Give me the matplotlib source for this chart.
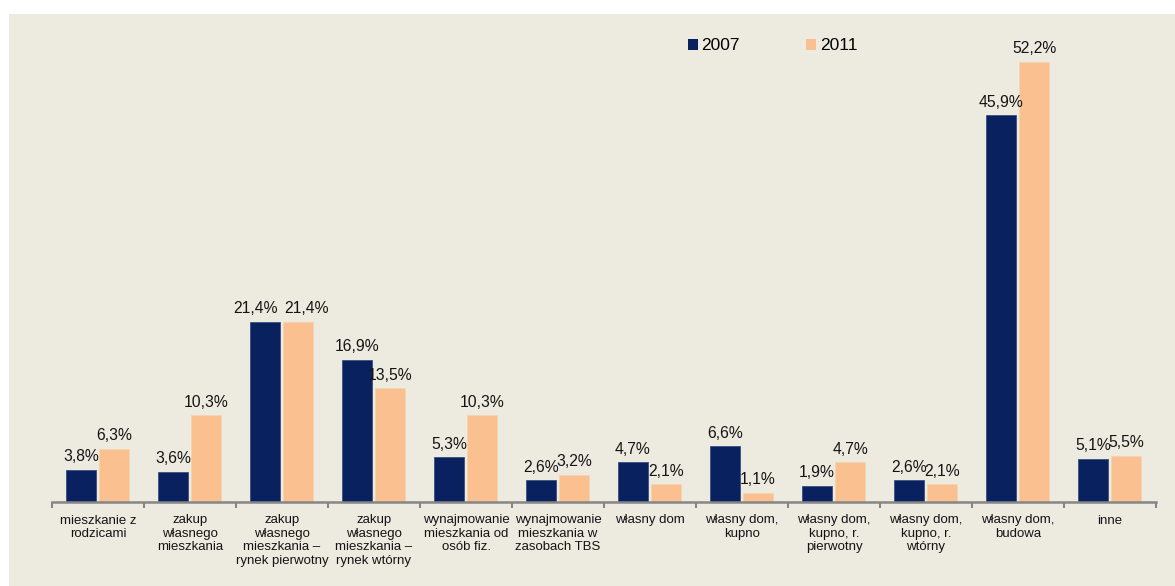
import numpy as np
import matplotlib
matplotlib.use("Agg")
import matplotlib.pyplot as plt
from matplotlib.patches import Patch, Rectangle

plt.rcParams['font.family'] = ['Liberation Sans', 'DejaVu Sans']

categories = [
    "mieszkanie z\nrodzicami",
    "zakup\nwłasnego\nmieszkania",
    "zakup\nwłasnego\nmieszkania –\nrynek pierwotny",
    "zakup\nwłasnego\nmieszkania –\nrynek wtórny",
    "wynajmowanie\nmieszkania od\nosób fiz.",
    "wynajmowanie\nmieszkania w\nzasobach TBS",
    "własny dom",
    "własny dom,\nkupno",
    "własny dom,\nkupno, r.\npierwotny",
    "własny dom,\nkupno, r.\nwtórny",
    "własny dom,\nbudowa",
    "inne",
]
years = ["2007", "2011"]
vals_2007 = [3.8, 3.6, 21.4, 16.9, 5.3, 2.6, 4.7, 6.6, 1.9, 2.6, 45.9, 5.1]
vals_2011 = [6.3, 10.3, 21.4, 13.5, 10.3, 3.2, 2.1, 1.1, 4.7, 2.1, 52.2, 5.5]

navy = '#0A2160'
peach = '#FAC090'
bg = '#EDEAE0'

W, H = 1175, 586
fig = plt.figure(figsize=(W / 100, H / 100), dpi=100)
fig.patch.set_facecolor('white')
# beige panel, white strip left and top
fig.patches.append(Rectangle((9 / W, 0), 1 - 9 / W, 1 - 14 / H, transform=fig.transFigure,
                             facecolor=bg, edgecolor='none', zorder=-10))

ax = fig.add_axes([52 / W, (H - 502) / H, (1156 - 52) / W, (502 - 30) / H])
ax.set_facecolor('none')
ax.set_zorder(5)

x = np.arange(len(categories))
bw = 0.33
b1 = ax.bar(x - 0.185, vals_2007, bw, color=navy, edgecolor='#3a4f80', linewidth=0.6)
b2 = ax.bar(x + 0.175, vals_2011, bw, color=peach, edgecolor='#f6d2b0', linewidth=0.6)

# push apart the two labels that sit at the same height
nudge = {(0, 2): -7, (1, 2): 6}

for k, (bars, vals) in enumerate(((b1, vals_2007), (b2, vals_2011))):
    for i, (rect, v) in enumerate(zip(bars, vals)):
        ax.annotate(f"{v:.1f}%".replace('.', ','),
                    (rect.get_x() + rect.get_width() / 2, rect.get_height()),
                    xytext=(nudge.get((k, i), 0), 4), textcoords='offset points',
                    ha='center', va='bottom', fontsize=11.3, color='#141414')

ax.set_xlim(-0.5, len(categories) - 0.5)
ax.set_ylim(0, 56)

for s in ('top', 'right', 'left'):
    ax.spines[s].set_visible(False)
ax.spines['bottom'].set_color('#868686')
ax.spines['bottom'].set_linewidth(1.8)
ax.set_yticks([])

ax.set_xticks(x)
ax.set_xticklabels(categories, fontsize=9.5, linespacing=1.15, color='#141414', va='top')
ax.tick_params(axis='x', which='major', length=0, pad=9)
ax.set_xticks(np.arange(-0.5, len(categories), 1), minor=True)
ax.tick_params(axis='x', which='minor', length=4, width=1.5, color='#868686', direction='out')

handles = [Patch(facecolor=navy, edgecolor='none'), Patch(facecolor=peach, edgecolor='none')]
leg = fig.legend(handles, years, loc='center left', bbox_to_anchor=(679 / W, 1 - 46 / H),
                 ncol=2, frameon=False, fontsize=12.5, handlelength=0.6, handleheight=0.6,
                 handletextpad=0.2, columnspacing=3.8, borderpad=0)
leg.set_zorder(6)

fig.savefig('out.png', dpi=100, facecolor=fig.get_facecolor())
